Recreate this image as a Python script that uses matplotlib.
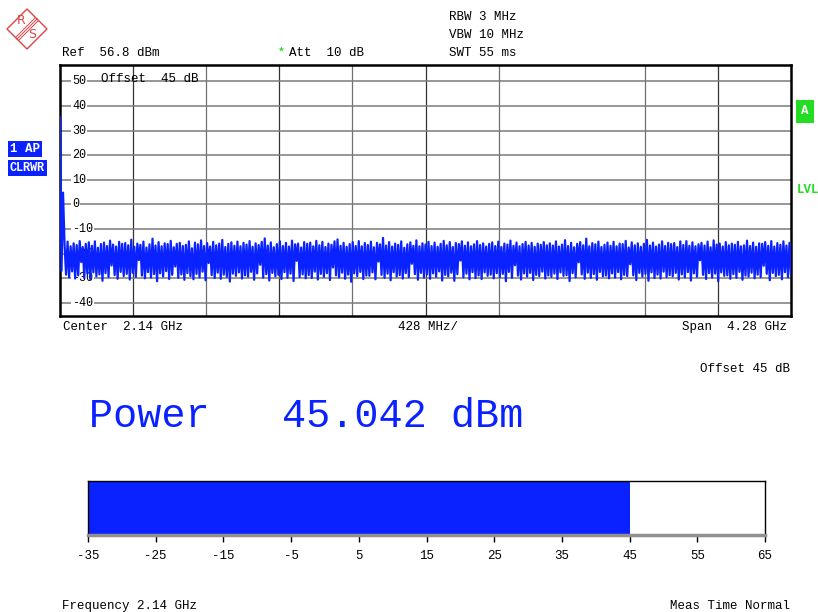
import numpy as np
import matplotlib.pyplot as plt
from matplotlib.patches import Polygon

span_ghz = 4.28
ref_level = 56.6
bottom_level = -45.3
level_ticks = [50, 40, 30, 20, 10, 0, -10, -20, -30, -40]

start_spike = [35.5, -27.0, 4.8]
peaks = [
    -16.2, -15.1, -17.0, -15.8, -16.5, -14.9, -17.3, -16.0, -15.4, -16.8, -15.0, -17.6, -16.1, -15.5, -16.9, -14.7, -16.3, -17.1, -15.2, -16.0,
    -15.7, -16.6, -14.3, -17.2, -15.9, -16.4, -15.1, -17.5, -16.2, -13.9, -16.7, -15.3, -17.0, -15.8, -16.1, -14.8, -17.4, -16.0, -15.6, -16.9,
    -16.4, -15.0, -17.8, -15.5, -16.2, -14.6, -16.9, -15.7, -17.1, -15.2, -16.6, -15.9, -14.4, -17.3, -16.0, -15.4, -16.8, -15.1, -17.0, -15.6,
    -16.3, -14.9, -17.2, -15.8, -16.5, -15.2, -13.8, -16.7, -15.4, -17.4, -16.1, -15.0, -16.9, -15.6, -17.1, -14.7, -16.2, -15.9, -17.5, -15.3,
    -16.0, -15.5, -17.0, -14.8, -16.6, -15.2, -17.3, -15.9, -16.4, -15.0, -14.2, -16.8, -15.6, -17.2, -16.1, -15.3, -16.9, -14.9, -17.0, -15.7,
    -16.5, -15.1, -17.4, -15.6, -16.2, -13.6, -16.7, -15.3, -17.1, -15.9, -16.4, -15.0, -17.6, -16.2, -15.4, -16.8, -14.6, -17.0, -15.8, -16.3,
    -15.2, -16.9, -15.5, -17.2, -16.0, -14.8, -16.6, -15.3, -17.3, -15.7, -16.1, -15.0, -16.8, -15.4, -17.0, -16.2, -14.9, -16.5, -15.8, -17.1,
    -16.0, -15.4, -16.9, -15.1, -17.3, -15.9, -16.3, -14.7, -16.8, -15.5, -17.0, -16.1, -15.2, -16.7, -15.6, -17.2, -15.9, -16.4, -15.3, -16.6,
    -15.8, -16.7, -15.0, -17.1, -16.3, -14.5, -16.9, -15.6, -17.4, -16.0, -15.3, -16.6, -13.9, -17.0, -15.7, -16.2, -15.1, -17.3, -16.4, -15.5,
    -16.8, -15.2, -17.0, -15.9, -16.1, -14.8, -17.5, -15.4, -16.6, -15.8, -17.2, -16.0, -14.4, -16.7, -15.5, -17.1, -16.3, -15.0, -16.9, -15.6,
    -16.1, -15.7, -17.3, -15.0, -16.5, -14.9, -16.8, -15.4, -17.0, -16.2, -15.6, -16.7, -15.1, -17.4, -14.6, -16.3, -15.9, -17.1, -15.3, -16.6,
    -15.9, -16.4, -15.2, -17.0, -16.6, -14.7, -16.9, -15.5, -17.2, -15.8, -16.0, -15.3, -16.8, -14.9, -17.1, -15.7, -16.4, -15.0, -16.7, -15.6,
]
troughs = [
    -28.5, -29.6, -27.2, -30.1, -28.8, -23.4, -29.9, -28.1, -30.4, -27.6, -29.2, -28.4, -31.0, -27.9, -29.5, -24.8, -28.7, -30.2, -27.4, -29.1,
    -28.2, -30.5, -27.8, -29.4, -22.6, -28.9, -30.0, -27.5, -29.7, -28.3, -31.2, -28.0, -29.3, -27.1, -30.3, -28.6, -25.2, -29.8, -28.4, -30.6,
    -27.9, -29.1, -30.4, -28.2, -29.6, -27.3, -30.8, -23.8, -28.7, -29.9, -27.7, -30.2, -28.5, -29.4, -31.3, -28.1, -29.0, -27.6, -30.1, -28.8,
    -29.3, -27.4, -30.6, -28.0, -24.5, -29.7, -28.3, -30.9, -27.8, -29.2, -28.6, -30.3, -27.5, -29.8, -28.1, -31.1, -22.9, -29.5, -28.4, -30.0,
    -28.7, -29.9, -27.3, -30.5, -28.2, -29.4, -27.9, -30.7, -25.6, -28.8, -29.6, -27.7, -30.2, -28.5, -31.4, -28.0, -29.1, -27.4, -30.3, -28.9,
    -29.0, -27.6, -30.4, -23.2, -28.6, -29.8, -28.1, -30.8, -27.5, -29.3, -28.7, -30.1, -27.9, -29.5, -24.1, -28.3, -30.6, -27.8, -29.7, -28.4,
    -30.2, -28.0, -29.4, -27.2, -30.9, -28.6, -29.2, -27.7, -31.0, -28.3, -22.8, -29.6, -28.1, -30.4, -27.5, -29.9, -28.8, -30.3, -27.6, -29.0,
    -28.5, -30.0, -27.9, -29.5, -28.2, -31.2, -27.4, -29.8, -24.7, -28.9, -30.5, -28.0, -29.3, -27.8, -30.7, -28.6, -29.1, -27.3, -30.1, -28.8,
    -29.4, -28.1, -30.3, -27.6, -29.0, -28.7, -31.1, -27.9, -29.6, -23.5, -28.4, -30.2, -27.7, -29.8, -28.3, -30.6, -27.4, -29.2, -28.9, -30.0,
    -28.0, -29.7, -27.5, -30.4, -28.6, -29.1, -24.3, -28.8, -30.7, -27.8, -29.3, -28.2, -31.0, -27.6, -29.9, -28.5, -30.1, -27.3, -29.5, -28.7,
    -29.2, -27.8, -30.5, -28.4, -29.6, -27.5, -30.9, -28.0, -29.4, -22.7, -28.6, -30.3, -27.9, -29.7, -28.1, -31.2, -27.6, -29.0, -28.8, -30.2,
    -28.3, -29.8, -27.4, -30.6, -28.9, -29.3, -27.7, -30.0, -28.5, -29.5, -24.9, -28.2, -30.8, -27.8, -29.1, -28.6, -30.4, -27.5, -29.6, -28.4,
]

power_dbm = 45.042
bar_min, bar_max = -35, 65
bar_ticks = [-35, -25, -15, -5, 5, 15, 25, 35, 45, 55, 65]

W, H = 818, 612
BLUE = '#0a22ff'
GREEN = '#22dd22'
RED = '#dd4444'
MONO = 'Liberation Mono'


def fx(x):
    return x / W


def fy(y):
    return 1 - y / H


fig = plt.figure(figsize=(W / 100, H / 100), dpi=100)


def txt(x, y, s, **kw):
    kw.setdefault('fontsize', 9)
    kw.setdefault('family', MONO)
    kw.setdefault('va', 'center')
    fig.text(fx(x), fy(y), s, **kw)


# R&S logo
cx, cy, r = 27, 29, 20
fig.patches.append(Polygon([(fx(cx - r), fy(cy)), (fx(cx), fy(cy - r)), (fx(cx + r), fy(cy)), (fx(cx), fy(cy + r))],
                           closed=True, fill=False, edgecolor=RED, lw=1, transform=fig.transFigure))
for d in (-1.5, 0, 1.5):
    fig.add_artist(plt.Line2D([fx(cx + 10 + d), fx(cx - 10 + d)], [fy(cy - 10 + d), fy(cy + 10 + d)],
                              color=RED, lw=0.7, transform=fig.transFigure))
txt(21, 20, 'R', color=RED, fontsize=9, family='DejaVu Sans', ha='center')
txt(32, 35, 'S', color=RED, fontsize=9, family='DejaVu Sans', ha='center')

# header texts
txt(449, 17, 'RBW 3 MHz')
txt(449, 35, 'VBW 10 MHz')
txt(449, 53, 'SWT 55 ms')
txt(62, 53, 'Ref  56.8 dBm')
txt(278, 52, '*', color=GREEN, fontsize=8, fontweight='bold')
txt(289, 53, 'Att  10 dB')

# trace display
ax = fig.add_axes([fx(60), fy(316), (791 - 60) / W, (316 - 65) / H])
trace = list(start_spike)
for p, t in zip(peaks, troughs):
    trace += [p, t]
freq = np.linspace(0, span_ghz, len(trace))
ax.set_xlim(0, span_ghz)
ax.set_ylim(bottom_level, ref_level)
for k in range(1, 10):
    if k == 7:
        continue
    ax.axvline(k * span_ghz / 10, color='#333333' if k % 2 else '#707070', lw=0.9, zorder=1)
for lv in level_ticks:
    ax.axhline(lv, color='#7a7a7a', lw=1.1, zorder=1)
    ax.text(0.07, lv, str(lv), fontsize=8.5, family=MONO, va='center', ha='left',
            bbox=dict(facecolor='white', edgecolor='none', pad=0.5), zorder=2)
ax.plot(freq, trace, color=BLUE, lw=1.6, zorder=3)
ax.set_xticks([])
ax.set_yticks([])
for s in ax.spines.values():
    s.set_linewidth(1.8)
ax.text(0.056, 0.97, 'Offset  45 dB', transform=ax.transAxes, fontsize=9, family=MONO, va='top')

# trace labels
txt(10, 149, '1 AP', color='white', fontweight='bold',
    bbox=dict(facecolor=BLUE, edgecolor='none', pad=1.5))
txt(10, 168, 'CLRWR', color='white', fontweight='bold', fontsize=8.5,
    bbox=dict(facecolor=BLUE, edgecolor='none', pad=1.5))
txt(801, 111, 'A', color='white', fontweight='bold',
    bbox=dict(facecolor=GREEN, edgecolor='none', pad=4))
txt(797, 190, 'LVL', color=GREEN, fontweight='bold')

# footer of trace
txt(63, 327, 'Center  2.14 GHz')
txt(428, 327, '428 MHz/', ha='center')
txt(787, 327, 'Span  4.28 GHz', ha='right')
txt(790, 369, 'Offset 45 dB', ha='right')

# power readout
txt(89, 416, 'Power   %.3f dBm' % power_dbm, color=BLUE, fontsize=29)

# bar graph
bx = fig.add_axes([fx(88), fy(535), (765 - 88) / W, (535 - 481) / H])
bx.barh([0], [power_dbm - bar_min], left=bar_min, height=1, color=BLUE)
bx.set_xlim(bar_min, bar_max)
bx.set_ylim(-0.5, 0.5)
bx.set_yticks([])
bx.set_xticks(bar_ticks)
bx.set_xticklabels([str(v) for v in bar_ticks], family=MONO, fontsize=9)
bx.tick_params(axis='x', length=5, width=1, pad=6, direction='out')
for s in bx.spines.values():
    s.set_linewidth(1)
bx.spines['bottom'].set_color('#909090')
bx.spines['bottom'].set_linewidth(2.5)

txt(62, 606, 'Frequency 2.14 GHz')
txt(790, 606, 'Meas Time Normal', ha='right')

fig.savefig('out.png', dpi=100)
